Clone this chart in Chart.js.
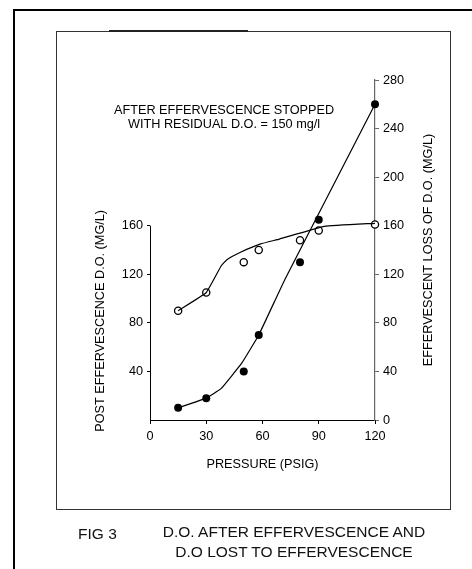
<!DOCTYPE html>
<html>
<head>
<meta charset="utf-8">
<script src="https://cdn.jsdelivr.net/npm/chart.js@4/dist/chart.umd.min.js"></script>
<style>
  html, body { margin: 0; padding: 0; background: #fff; overflow: hidden; }
  #wrap { position: relative; width: 472px; height: 569px; }
  #grafico { position: absolute; left: 0; top: 0; }
  .moldura { position: absolute; left: 13px; top: 9px; width: 600px; height: 700px;
    border-left: 2px solid #000; border-top: 2px solid #000; }
  .caixa { position: absolute; left: 56px; top: 31px; width: 393px; height: 477px; border: 1px solid #333; }
  .caixaTopo { position: absolute; left: 109px; top: 30px; width: 139px; height: 2px; background: #222; }
  .legenda { position: absolute; font-family: 'Liberation Sans', Arial, sans-serif; color: #111; font-size: 15.5px; line-height: 20px; }
  #fig { left: 78px; top: 524px; }
  #titulo { left: 150px; width: 288px; top: 522px; text-align: center; }
</style>
</head>
<body>
<div id="wrap">
  <div class="moldura"></div>
  <div class="caixa"></div>
  <div class="caixaTopo"></div>
  <canvas id="grafico" width="472" height="569"></canvas>
  <div class="legenda" id="fig">FIG 3</div>
  <div class="legenda" id="titulo">D.O. AFTER EFFERVESCENCE AND<br>D.O LOST TO EFFERVESCENCE</div>
</div>
<script>
// valores
const pressao = [15, 30, 50, 58, 80, 90, 120];
const doPosEfervescencia = [90, 105, 130, 140, 148, 156, 161];
const perdaEfervescencia = [10, 18, 40, 70, 130, 165, 260];

// curvas ajustadas (vertices)
const curvaPosX = [15, 30, 38, 41, 48, 59, 69, 93, 120];
const curvaPosY = [90, 105, 127, 132, 138, 145, 149, 159.5, 162];
const curvaPerdaX = [15, 30, 38, 49, 58, 72, 99, 120];
const curvaPerdaY = [10, 18, 26, 47, 70, 116, 197, 260];

const ticksX = [0, 30, 60, 90, 120];
const maxEsquerda = 160;
const maxDireita = 280;

const tituloX = 'PRESSURE (PSIG)';
const tituloEsquerda = 'POST EFFERVESCENCE D.O. (MG/L)';
const tituloDireita = 'EFFERVESCENT LOSS OF D.O. (MG/L)';
const nota = ['AFTER EFFERVESCENCE STOPPED', 'WITH RESIDUAL D.O. = 150 mg/l'];
const posNota = { x: 39.5, y: 249 };

const fonte = "'Liberation Sans', Arial, sans-serif";
Chart.defaults.font.family = fonte;
Chart.defaults.color = '#000';

function pares(xs, ys) {
  return xs.map(function (x, i) { return { x: x, y: ys[i] }; });
}

const extras = {
  id: 'extras',
  afterDraw(chart) {
    const ctx = chart.ctx;
    const sx = chart.scales.x;
    const yL = chart.scales.yL;
    const yR = chart.scales.yR;
    ctx.save();

    // eixo esquerdo so vai ate 160
    ctx.strokeStyle = '#000';
    ctx.lineWidth = 1;
    ctx.beginPath();
    ctx.moveTo(sx.left + 0.5, yL.getPixelForValue(0) + 0.5);
    ctx.lineTo(sx.left + 0.5, yL.getPixelForValue(maxEsquerda));
    ctx.stroke();

    ctx.fillStyle = '#000';
    ctx.font = '12.7px ' + fonte;
    ctx.textAlign = 'center';
    ctx.textBaseline = 'middle';

    // titulo esquerdo
    ctx.save();
    ctx.translate(sx.left - 50, yL.getPixelForValue(maxEsquerda / 2) - 2);
    ctx.rotate(-Math.PI / 2);
    ctx.fillText(tituloEsquerda, 0, 0);
    ctx.restore();

    // titulo direito
    ctx.save();
    ctx.translate(yR.left + 53, yR.getPixelForValue(maxDireita / 2));
    ctx.rotate(-Math.PI / 2);
    ctx.fillText(tituloDireita, 0, 0);
    ctx.restore();

    // nota
    const nx = sx.getPixelForValue(posNota.x);
    const ny = yR.getPixelForValue(posNota.y);
    ctx.fillText(nota[0], nx, ny - 7);
    ctx.fillText(nota[1], nx, ny + 7);

    ctx.restore();
  }
};

function graficoEfervescencia() {
  new Chart(document.getElementById('grafico'), {
    type: 'scatter',
    data: {
      datasets: [
        {
          label: 'curva pos',
          data: pares(curvaPosX, curvaPosY),
          yAxisID: 'yL',
          showLine: true,
          borderColor: '#000',
          borderWidth: 1.2,
          pointRadius: 0,
          tension: 0.1,
          clip: false
        },
        {
          label: 'curva perda',
          data: pares(curvaPerdaX, curvaPerdaY),
          yAxisID: 'yR',
          showLine: true,
          borderColor: '#000',
          borderWidth: 1.2,
          pointRadius: 0,
          tension: 0.1,
          clip: false
        },
        {
          label: 'D.O. pos efervescencia',
          data: pares(pressao, doPosEfervescencia),
          yAxisID: 'yL',
          pointRadius: 3.6,
          pointBorderWidth: 1.3,
          pointBorderColor: '#000',
          pointBackgroundColor: '#fff',
          clip: false
        },
        {
          label: 'perda por efervescencia',
          data: pares(pressao, perdaEfervescencia),
          yAxisID: 'yR',
          pointRadius: 4,
          pointBorderWidth: 0,
          pointBackgroundColor: '#000',
          clip: false
        }
      ]
    },
    options: {
      responsive: false,
      animation: false,
      layout: { padding: { top: 80, left: 0, right: 0, bottom: 0 } },
      plugins: {
        legend: { display: false },
        tooltip: { enabled: false }
      },
      scales: {
        x: {
          type: 'linear',
          min: 0,
          max: 120,
          afterBuildTicks: function (s) { s.ticks = ticksX.map(function (v) { return { value: v }; }); },
          afterFit: function (s) { s.height = 149; },
          border: { color: '#000', width: 1 },
          grid: { drawOnChartArea: false, tickLength: 4, tickColor: '#000' },
          ticks: { font: { size: 12.7 }, padding: 5 },
          title: { display: true, text: tituloX, font: { size: 12.7 }, padding: { top: 8, bottom: 97 } }
        },
        yL: {
          type: 'linear',
          position: 'left',
          min: 0,
          max: maxDireita,
          afterFit: function (s) { s.width = 150; },
          border: { display: false },
          grid: {
            drawOnChartArea: false,
            tickLength: 3,
            tickColor: function (c) { return c.tick && c.tick.value > 0 && c.tick.value <= maxEsquerda ? '#000' : 'rgba(0,0,0,0)'; }
          },
          ticks: {
            stepSize: 40,
            font: { size: 12.7 },
            padding: 4,
            callback: function (v) { return v > 0 && v <= maxEsquerda ? v : ''; }
          }
        },
        yR: {
          type: 'linear',
          position: 'right',
          min: 0,
          max: maxDireita,
          afterFit: function (s) { s.width = 97; },
          border: { color: '#666', width: 1.2 },
          grid: { drawOnChartArea: false, tickLength: 4, tickColor: '#666' },
          ticks: { stepSize: 40, font: { size: 12.7 }, padding: 4 }
        }
      }
    },
    plugins: [extras]
  });
}

graficoEfervescencia();
</script>
</body>
</html>
